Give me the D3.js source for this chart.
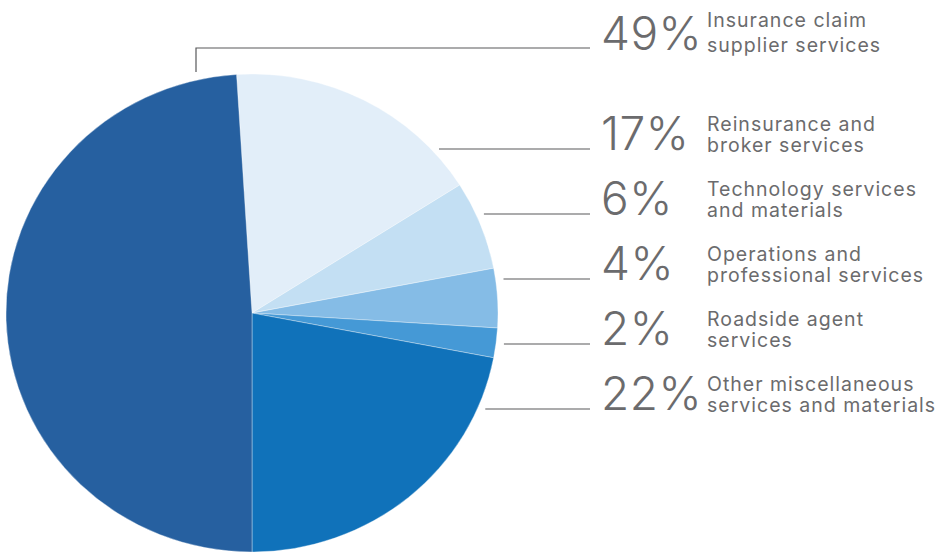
<!DOCTYPE html>
<html><head><meta charset="utf-8">
<script src="https://cdn.jsdelivr.net/npm/d3@7"></script>
<style>
html,body{margin:0;padding:0;background:#fff;}
svg{display:block;}
</style></head>
<body>
<svg id="chart" width="936" height="552"></svg>
<script>
const categories = [
  "Reinsurance and|broker services",
  "Technology services|and materials",
  "Operations and|professional services",
  "Roadside agent|services",
  "Other miscellaneous|services and materials",
  "Insurance claim|supplier services"
];
const values = [17, 6, 4, 2, 22, 49];
const colors = ["#e2eef9", "#c3dff3", "#85bce6", "#4599d6", "#1072ba", "#2660a0"];
// display order of the labels on the right (top to bottom)
const labelOrder = [5, 0, 1, 2, 3, 4];

const svg = d3.select("#chart");
const cx = 252, cy = 313, rx = 246, ry = 239;

const total = d3.sum(values);
const firstFive = d3.sum(values.slice(0, 5));
// the last slice (49%) starts exactly at 6 o'clock
const start = Math.PI - firstFive / total * Math.PI * 2;
const pie = d3.pie().sort(null).value(d => d)
  .startAngle(start).endAngle(start + Math.PI * 2);
const arcs = pie(values);
const arc = d3.arc().innerRadius(0).outerRadius(rx);

const g = svg.append("g").attr("transform", `translate(${cx},${cy}) scale(1,${ry/rx})`);
g.selectAll("path").data(arcs).join("path")
  .attr("d", arc)
  .attr("fill", (d, i) => colors[i])
  .attr("stroke", "#ffffff")
  .attr("stroke-width", 0.6)
  .attr("stroke-opacity", 0.6);

// label rows (percentage baselines)
const rowY = d3.scalePoint().domain(d3.range(1, 6)).range([150, 410]);
const baseFor = k => k === 0 ? 50 : rowY(k);
const textColor = "#6b6b6d";
const lineColor = "#58595b";
const pctX = 601, labX = 707, lineEnd = 590;

labelOrder.forEach((idx, k) => {
  const yb = baseFor(k);
  // percentage
  svg.append("text")
    .attr("x", pctX).attr("y", yb)
    .attr("font-family", "Inter, Roboto, 'Liberation Sans', sans-serif")
    .attr("font-weight", 300)
    .attr("font-size", 46)
    .attr("letter-spacing", 0.5)
    .style("font-variant-numeric", "proportional-nums")
    .attr("fill", textColor)
    .text(values[idx] + "%");
  // label
  const lines = categories[idx].split("|");
  const gap = k === 0 ? 25 : 21.5;
  lines.forEach((ln, j) => {
    svg.append("text")
      .attr("x", labX)
      .attr("y", yb + 2 - gap * (lines.length - 1 - j))
      .attr("font-family", "Inter, 'Liberation Sans', sans-serif")
      .attr("font-size", 19.5)
      .attr("letter-spacing", 1.0)
      .attr("fill", textColor)
      .text(ln);
  });
  // leader
  if (k === 0) {
    const lx = 196;
    const yTop = cy - ry - 2;
    svg.append("path")
      .attr("d", `M${lx},${yTop} V${yb - 2} H${lineEnd}`)
      .attr("fill", "none").attr("stroke", lineColor).attr("stroke-width", 1.2);
  } else {
    const ly = yb - 1;
    const s = (ly - cy) / ry;
    const x0 = cx + rx * Math.sqrt(1 - s * s) + 8;
    svg.append("line")
      .attr("x1", x0).attr("x2", lineEnd).attr("y1", ly).attr("y2", ly)
      .attr("stroke", lineColor).attr("stroke-width", 1.2);
  }
});
</script>
</body></html>
